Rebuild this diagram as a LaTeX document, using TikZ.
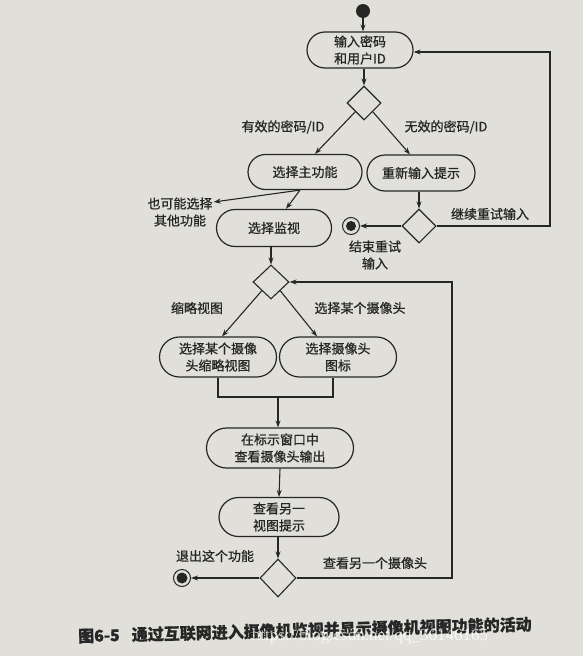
\documentclass[tikz,border=0pt]{standalone}
\usepackage{fontspec}
\setmainfont{Noto Sans CJK SC}[FakeBold=0.8]
\newfontfamily\wmfont{Liberation Serif}
\usetikzlibrary{shapes.geometric,shapes.misc,arrows.meta}
\definecolor{paper}{RGB}{224,223,218}
\definecolor{ink}{RGB}{38,38,38}
\begin{document}
\begin{tikzpicture}[x=1pt,y=-1pt,
  every node/.style={text=ink},
  act/.style={draw=ink, line width=1.2pt, rounded rectangle, inner sep=0pt,
     align=center, font=\fontsize{13}{17}\selectfont},
  dec/.style={draw=ink, line width=1.1pt, diamond, inner sep=0pt,
     minimum width=34pt, minimum height=34pt},
  lbl/.style={font=\fontsize{13}{17}\selectfont, align=center, inner sep=1pt},
  arr/.style={draw=ink, line width=1.1pt, -{Stealth[length=7pt,width=5pt]}},
  ln/.style={draw=ink, line width=1.1pt},
  startdot/.style={circle, fill=ink, minimum size=14pt, inner sep=0pt},
  enddot/.style={circle, draw=ink, line width=1pt, minimum size=17pt, inner sep=0pt}]
\fill[paper] (0,0) rectangle (583,656);
\useasboundingbox (0,0) rectangle (583,656);

% nodes
\node[startdot] (start) at (363,11) {};
\node[act, minimum width=106pt, minimum height=36pt] (n1) at (360,50) {输入密码\\和用户ID};
\node[dec] (d1) at (364,103) {};
\node[act, minimum width=114pt, minimum height=35pt] (n2) at (305,172) {选择主功能};
\node[act, minimum width=108pt, minimum height=36pt] (n3) at (421,173) {重新输入提示};
\node[act, minimum width=115pt, minimum height=37pt] (n4) at (274,228) {选择监视};
\node[dec] (d2) at (419,226) {};
\node[enddot] (e1) at (351,226) {};
\fill[ink] (e1) circle (5pt);
\node[dec, minimum width=36pt] (d3) at (271,282) {};
\node[act, minimum width=117pt, minimum height=40pt] (n5) at (218,357) {选择某个摄像\\头缩略视图};
\node[act, minimum width=117pt, minimum height=40pt] (n6) at (338,357) {选择摄像头\\图标};
\node[act, minimum width=147pt, minimum height=40pt] (n7) at (280,448) {在标示窗口中\\查看摄像头输出};
\node[act, minimum width=120pt, minimum height=39pt] (n8) at (279,517) {查看另一\\视图提示};
\node[dec, minimum width=36pt, minimum height=38pt] (d4) at (278,578) {};
\node[enddot] (e2) at (182,578) {};
\fill[ink] (e2) circle (5.5pt);

% labels
\node[lbl] (lvalid) at (283,127) {有效的密码/ID};
\node[lbl] (linvalid) at (446,127) {无效的密码/ID};
\node[lbl] (lother) at (180,212) {也可能选择\\其他功能};
\node[lbl] (lretry) at (490,214) {继续重试输入};
\node[lbl] (lend) at (375,255) {结束重试\\输入};
\node[lbl] (lthumb) at (197,308) {缩略视图};
\node[lbl] (lcam) at (360,308) {选择某个摄像头};
\node[lbl] (lexit) at (215,556) {退出这个功能};
\node[lbl] (lanother) at (375,563) {查看另一个摄像头};

% connectors
\draw[arr] (start) -- (start |- n1.north);
\draw[arr] (d1.north |- n1.south) -- (d1.north);
\draw[arr] (d1.south west) -- ([xshift=10pt]n2.north);
\draw[arr] (d1.south east) -- ([xshift=-11pt]n3.north);
\draw[arr] ([xshift=-5pt]n2.south) -- ([yshift=10pt]lother.east);
\draw[arr] ([xshift=-5pt]n2.south) -- ([xshift=12pt]n4.north);
\draw[arr] (d2.north |- n3.south) -- (d2.north);
\draw[arr] (d2.west) -- (e1.east);
\coordinate (c1) at (550,226);
\draw[arr] (d2.east) -- (c1) |- ([yshift=-2pt]n1.east);
\draw[arr] (d3.north |- n4.south) -- (d3.north);
\draw[arr] (d3.south west) -- ([xshift=4pt]n5.north);
\draw[arr] (d3.south east) -- ([xshift=-21pt]n6.north);
\coordinate (m) at (278,397);
\draw[ln] (n5.south) |- (m) -| ([xshift=-5pt]n6.south);
\draw[arr] (m) -- (m |- n7.north);
\draw[arr] (n7.south) -- (n8.north);
\draw[arr] (d4.north |- n8.south) -- (d4.north);
\draw[arr] (d4.west) -- (e2.east);
\coordinate (c2) at (452,578);
\draw[arr] (d4.east) -- (c2) |- (d3.east);

% caption
\node[anchor=west, rotate=1.5, inner sep=0pt, font=\fontsize{16}{18}\selectfont\bfseries] (cap) at (78,636)
  {图6-5\hspace{12pt}通过互联网进入摄像机监视并显示摄像机视图功能的活动};
\node[inner sep=0pt, text=white, opacity=0.75, font=\wmfont\fontsize{17}{18}\selectfont] (wm) at (370,636)
  {https://blog.csdn.net/qq\_36146165};
\end{tikzpicture}
\end{document}
